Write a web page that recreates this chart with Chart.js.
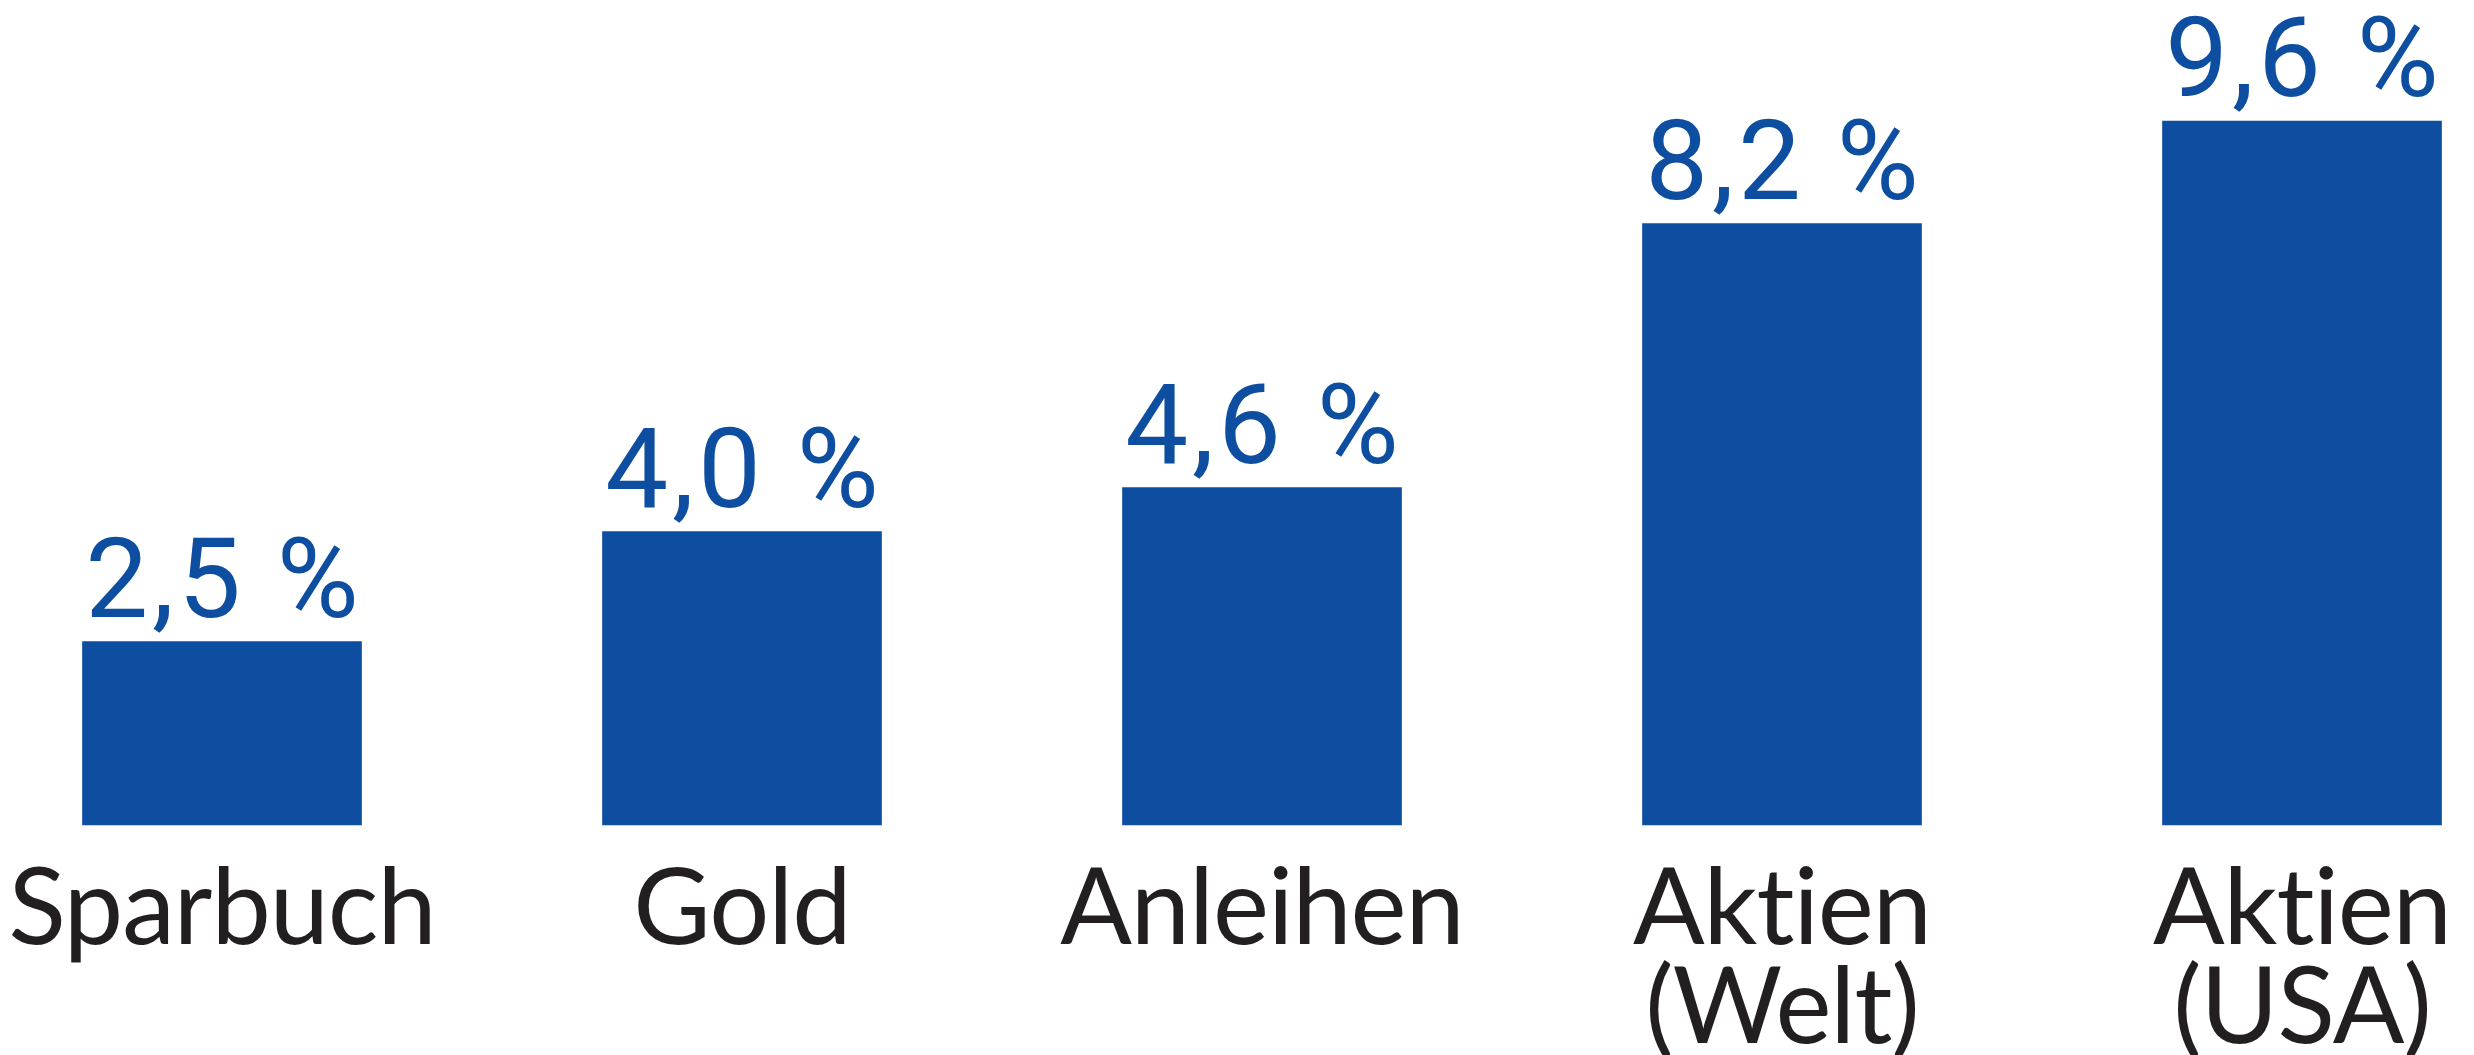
<!DOCTYPE html>
<html>
<head>
<meta charset="utf-8">
<script src="https://cdn.jsdelivr.net/npm/chart.js@4"></script>
<style>
  html, body { margin: 0; padding: 0; background: #fff; }
  #wrap { width: 2474px; height: 1055px; }
</style>
</head>
<body>
<div id="wrap"><canvas id="myChart" width="2474" height="1055"></canvas></div>
<script>
// Categories and values (average yearly return)
const categories = ['Sparbuch', 'Gold', 'Anleihen', ['Aktien', '(Welt)'], ['Aktien', '(USA)']];
const returns = [2.5, 4.0, 4.6, 8.2, 9.6];

const BLUE = '#0e4ea1';
const DARK = '#231f20';
const LABEL_FONT = 'Lato, "Open Sans", sans-serif';
const VALUE_FONT = 'Roboto, "Liberation Sans", sans-serif';

// small letter spacing, also keeps Lato from using the "ti" ligature
const textTweak = {
    id: 'textTweak',
    beforeDraw(chart) {
        chart.ctx.letterSpacing = '-1px';
    }
};

// value labels above each bar, e.g. "2,5 %"
const valueLabels = {
    id: 'valueLabels',
    afterDatasetsDraw(chart) {
        const ctx = chart.ctx;
        const meta = chart.getDatasetMeta(0);
        ctx.save();
        ctx.font = '112px ' + VALUE_FONT;
        ctx.fillStyle = BLUE;
        ctx.textAlign = 'center';
        ctx.textBaseline = 'alphabetic';
        ctx.letterSpacing = '4px';
        meta.data.forEach((bar, i) => {
            let txt = returns[i].toFixed(1).replace('.', ',') + ' %';
            ctx.fillText(txt, bar.x + 2, bar.y - 25);
        });
        ctx.restore();
    }
};

let data = {
    labels: categories,
    datasets: [{
        data: returns,
        backgroundColor: BLUE,
        borderWidth: 0,
        barThickness: 279,
        clip: false
    }]
};

const config = {
    type: 'bar',
    data: data,
    options: {
        responsive: false,
        animation: false,
        layout: { padding: { left: 222, right: 172, top: 0, bottom: 0 } },
        plugins: {
            legend: { display: false },
            tooltip: { enabled: false }
        },
        scales: {
            x: {
                offset: false,
                grid: { display: false, drawTicks: false },
                border: { display: false },
                afterFit(scale) {
                    scale.height = 230;
                    scale.paddingLeft = 0;
                    scale.paddingRight = 0;
                },
                ticks: {
                    color: DARK,
                    font: { family: LABEL_FONT, size: 106, lineHeight: 0.93 },
                    padding: 36,
                    autoSkip: false,
                    maxRotation: 0,
                    minRotation: 0
                }
            },
            y: {
                display: false,
                min: 0,
                max: 11.25
            }
        }
    },
    plugins: [textTweak, valueLabels]
};

const theChart = new Chart(document.getElementById('myChart').getContext('2d'), config);
</script>
</body>
</html>
